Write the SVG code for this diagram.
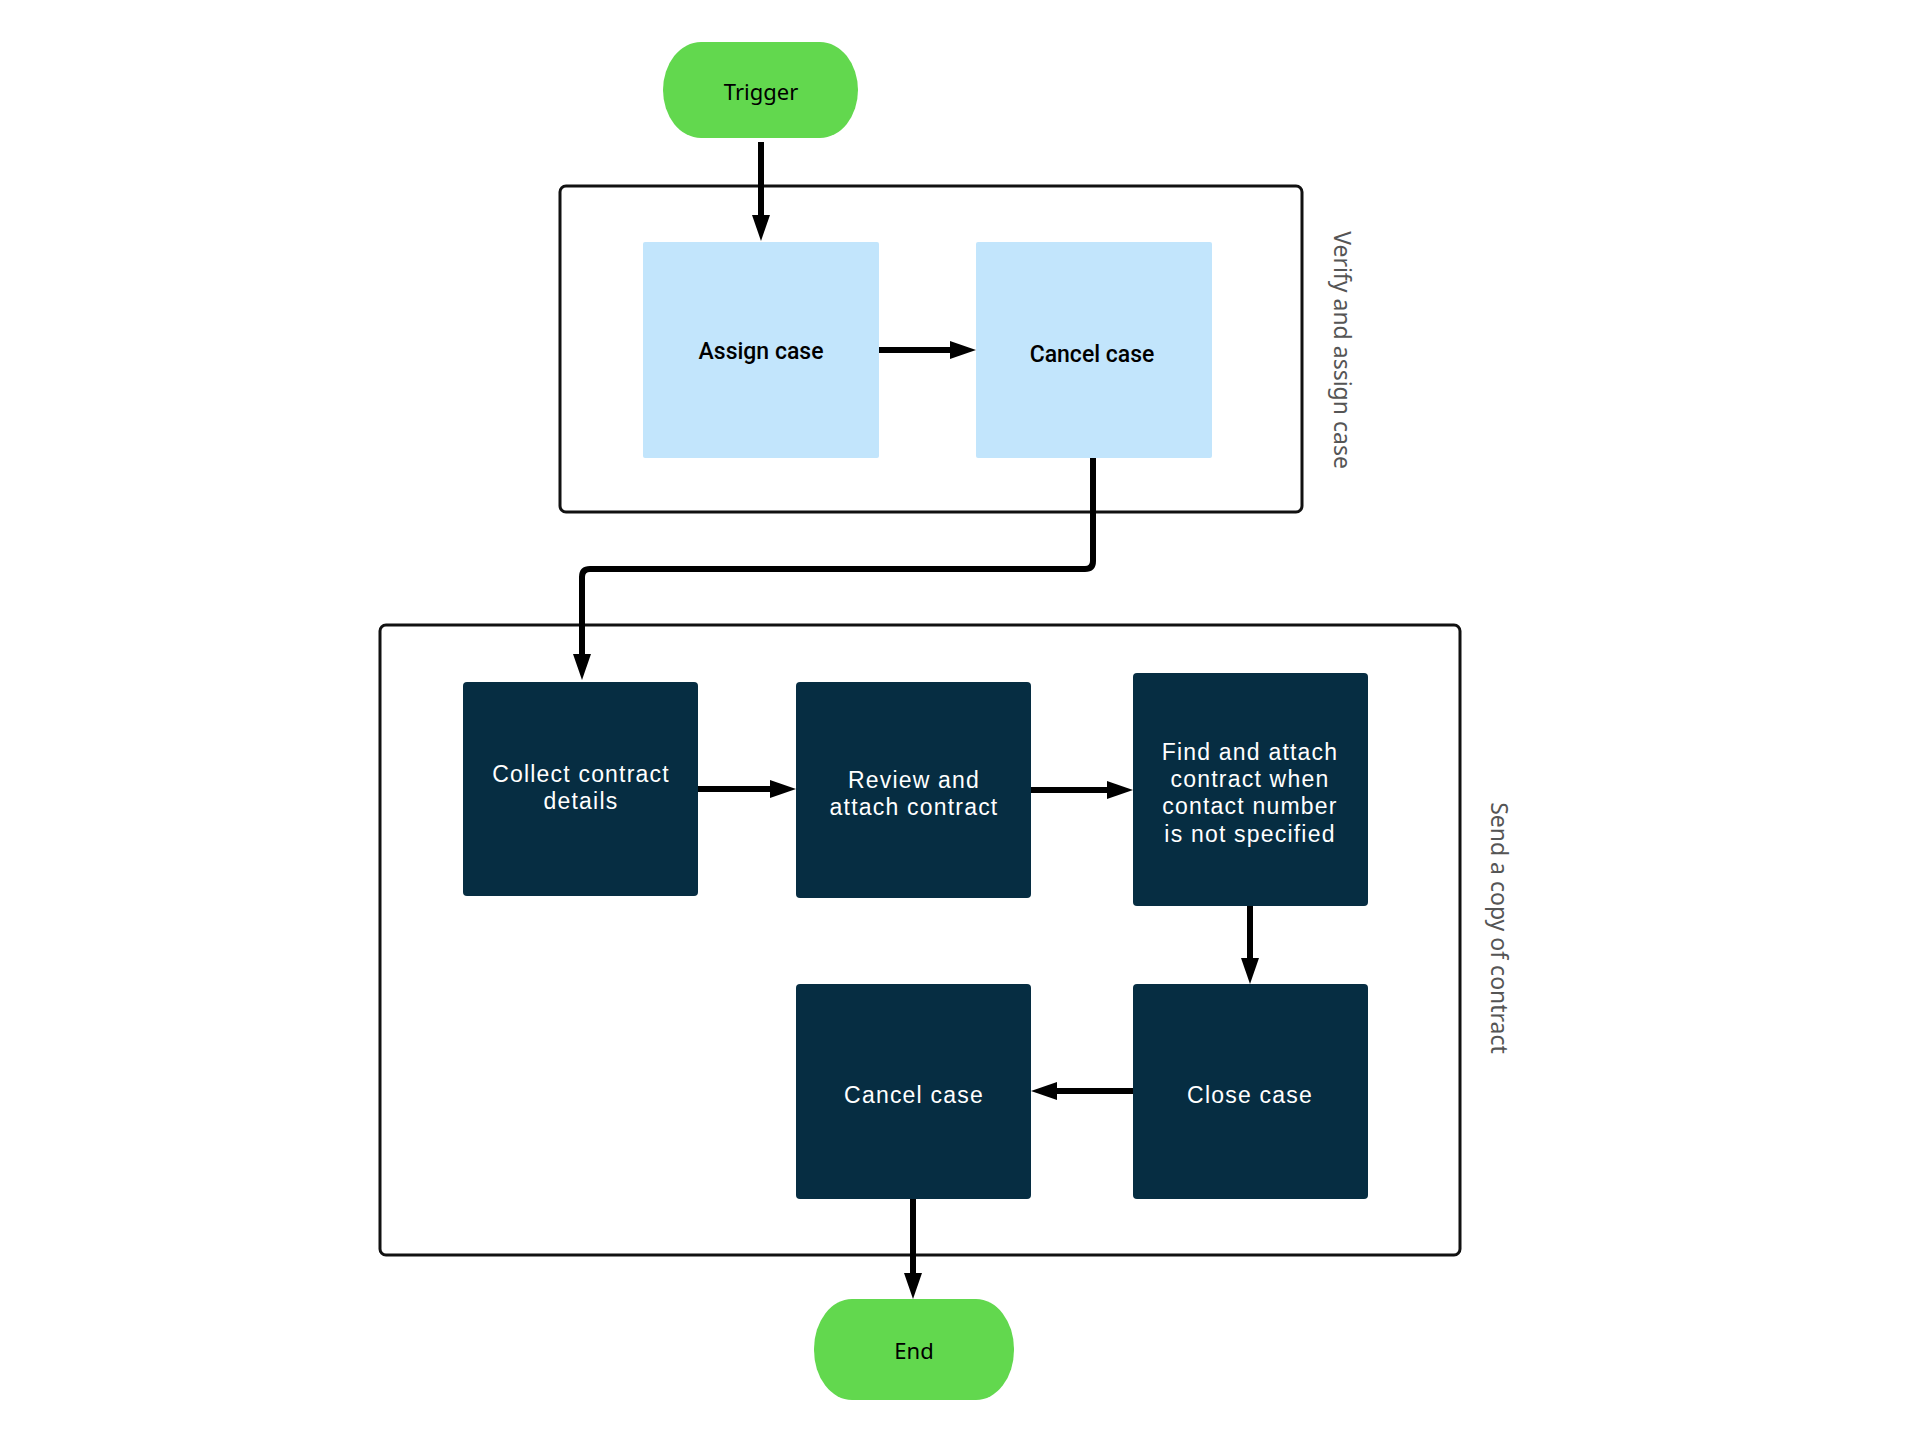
<svg xmlns="http://www.w3.org/2000/svg" width="1920" height="1440" viewBox="0 0 1920 1440">
<style>
.term{fill:#62d84e}
.light{fill:#c2e5fc}
.dark{fill:#062d42}
.grp{fill:none;stroke:#111;stroke-width:3}
.tdark{font-family:"Noto Sans","Open Sans",sans-serif;font-size:22px;fill:#000;text-anchor:middle;dominant-baseline:central}
.tlight{font-family:Roboto,"Liberation Sans",sans-serif;font-size:23px;font-weight:500;fill:#000;text-anchor:middle;dominant-baseline:central}
.twhite{font-family:"Liberation Sans",Arial,sans-serif;font-size:23px;letter-spacing:1.2px;fill:#fff;text-anchor:middle;dominant-baseline:central}
.side{font-family:"Noto Sans","Open Sans",sans-serif;font-size:23px;fill:#555;text-anchor:middle;dominant-baseline:central}
.conn{fill:none;stroke:#000;stroke-width:6;marker-end:url(#ah)}
</style>
<defs>
<marker id="ah" markerUnits="userSpaceOnUse" markerWidth="26" markerHeight="18" refX="6" refY="9" orient="auto">
<path d="M0,0 L26,9 L0,18 z" fill="#000"/>
</marker>
</defs>
<rect width="1920" height="1440" fill="#fff"/>
<g id="group-verify">
<rect class="grp" x="560" y="186" width="742" height="326" rx="6"/>
<text class="side" transform="translate(1343,350) rotate(90)">Verify and assign case</text>
</g>
<g id="group-send">
<rect class="grp" x="380" y="625" width="1080" height="630" rx="6"/>
<text class="side" transform="translate(1500,928) rotate(90)">Send a copy of contract</text>
</g>
<g id="connectors">
<path class="conn" d="M761,142 V221"/>
<path class="conn" d="M879,350 H956"/>
<path class="conn" d="M1093,458 V561 Q1093,569 1085,569 H590 Q582,569 582,577 V660"/>
<path class="conn" d="M698,789 H776"/>
<path class="conn" d="M1031,790 H1113"/>
<path class="conn" d="M1250,906 V964"/>
<path class="conn" d="M1133,1091 H1051"/>
<path class="conn" d="M913,1199 V1279"/>
</g>
<g id="trigger">
<rect class="term" x="663" y="42" width="195" height="96" rx="38" ry="48"/>
<text class="tdark" x="761" y="91">Trigger</text>
</g>
<g id="assign-case">
<rect class="light" x="643" y="242" width="236" height="216" rx="2"/>
<text class="tlight" x="761" y="351">Assign case</text>
</g>
<g id="cancel-case-1">
<rect class="light" x="976" y="242" width="236" height="216" rx="2"/>
<text class="tlight" x="1092" y="354">Cancel case</text>
</g>
<g id="collect">
<rect class="dark" x="463" y="682" width="235" height="214" rx="4"/>
<text class="twhite" x="581" y="774">Collect contract</text>
<text class="twhite" x="581" y="801">details</text>
</g>
<g id="review">
<rect class="dark" x="796" y="682" width="235" height="216" rx="4"/>
<text class="twhite" x="914" y="780">Review and</text>
<text class="twhite" x="914" y="807">attach contract</text>
</g>
<g id="find">
<rect class="dark" x="1133" y="673" width="235" height="233" rx="4"/>
<text class="twhite" x="1250" y="752">Find and attach</text>
<text class="twhite" x="1250" y="779">contract when</text>
<text class="twhite" x="1250" y="806">contact number</text>
<text class="twhite" x="1250" y="834">is not specified</text>
</g>
<g id="cancel-case-2">
<rect class="dark" x="796" y="984" width="235" height="215" rx="4"/>
<text class="twhite" x="914" y="1095">Cancel case</text>
</g>
<g id="close-case">
<rect class="dark" x="1133" y="984" width="235" height="215" rx="4"/>
<text class="twhite" x="1250" y="1095">Close case</text>
</g>
<g id="end">
<rect class="term" x="814" y="1299" width="200" height="101" rx="38" ry="50"/>
<text class="tdark" x="914" y="1350">End</text>
</g>
</svg>
